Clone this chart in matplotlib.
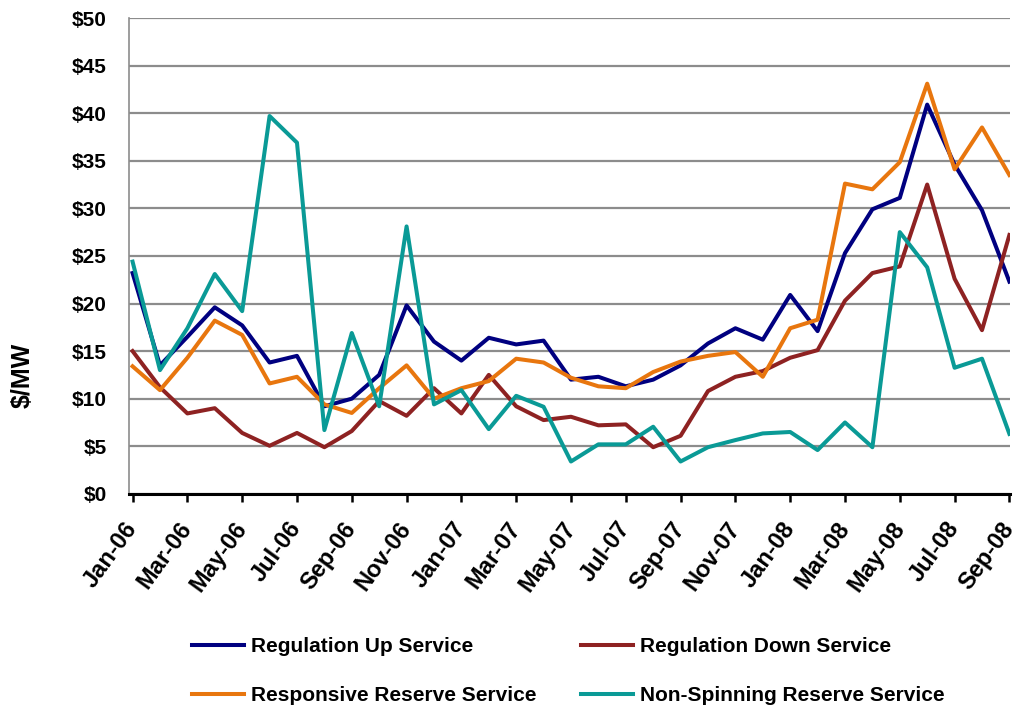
import matplotlib
matplotlib.use("Agg")
import matplotlib.pyplot as plt
import numpy as np

plt.rcParams["font.family"] = ["Liberation Sans", "DejaVu Sans"]
plt.rcParams["font.weight"] = "bold"

# Monthly prices, Jan-06 .. Sep-08
months = ["Jan-06", "Feb-06", "Mar-06", "Apr-06", "May-06", "Jun-06", "Jul-06", "Aug-06",
          "Sep-06", "Oct-06", "Nov-06", "Dec-06", "Jan-07", "Feb-07", "Mar-07", "Apr-07",
          "May-07", "Jun-07", "Jul-07", "Aug-07", "Sep-07", "Oct-07", "Nov-07", "Dec-07",
          "Jan-08", "Feb-08", "Mar-08", "Apr-08", "May-08", "Jun-08", "Jul-08", "Aug-08",
          "Sep-08"]

reg_up = [23.2, 13.5, 16.5, 19.6, 17.7, 13.8, 14.5, 9.2, 10.0, 12.5, 19.8, 16.0,
          14.0, 16.4, 15.7, 16.1, 12.0, 12.3, 11.3, 12.0, 13.5, 15.8, 17.4, 16.2,
          20.9, 17.1, 25.3, 29.9, 31.1, 40.9, 34.6, 29.8, 22.3]

reg_down = [15.0, 11.2, 8.45, 9.0, 6.4, 5.05, 6.4, 4.9, 6.6, 9.75, 8.2, 11.1,
            8.45, 12.5, 9.2, 7.75, 8.1, 7.2, 7.3, 4.9, 6.1, 10.8, 12.3, 12.9,
            14.3, 15.1, 20.3, 23.2, 23.9, 32.5, 22.6, 17.2, 27.2]

responsive = [13.4, 10.9, 14.3, 18.2, 16.7, 11.6, 12.3, 9.4, 8.5, 11.1, 13.5, 10.0,
              11.1, 11.85, 14.2, 13.8, 12.2, 11.3, 11.1, 12.8, 13.9, 14.5, 14.9, 12.3,
              17.4, 18.3, 32.6, 32.0, 34.85, 43.1, 34.1, 38.5, 33.5]

non_spin = [24.4, 13.0, 17.4, 23.1, 19.2, 39.7, 36.9, 6.7, 16.9, 9.2, 28.1, 9.4,
            10.9, 6.8, 10.3, 9.15, 3.4, 5.2, 5.2, 7.05, 3.4, 4.9, 5.65, 6.35,
            6.5, 4.6, 7.5, 4.9, 27.5, 23.8, 13.25, 14.2, 6.3]

x = np.arange(len(months))

fig = plt.figure(figsize=(10.14, 7.06), dpi=100)
ax = fig.add_axes([0.1275, 0.3005, 0.8685, 0.674])

l_up, = ax.plot(x, reg_up, color="#000080", lw=2.9, label="Regulation Up Service")
l_down, = ax.plot(x, reg_down, color="#8E2222", lw=2.9, label="Regulation Down Service")
l_resp, = ax.plot(x, responsive, color="#E8760E", lw=2.9, label="Responsive Reserve Service")
l_ns, = ax.plot(x, non_spin, color="#0A9A96", lw=2.9, label="Non-Spinning Reserve Service")

ax.set_xlim(-0.12, 32.02)
ax.set_ylim(0, 50)
ax.set_yticks(range(0, 51, 5))
ax.set_yticklabels(["$%d" % v for v in range(0, 51, 5)], fontsize=15, fontweight="bold")
ax.tick_params(axis="y", length=0, pad=16)
ax.yaxis.grid(True, color="#8c8c8c", lw=1.6)
ax.set_axisbelow(True)

ax.set_xticks(x[::2])
ax.set_xticklabels(months[::2], rotation=54, ha="right", va="center",
                   rotation_mode="anchor", fontsize=17, fontweight="bold")
ax.tick_params(axis="x", length=6, width=1.8, color="black", pad=16)

for side in ["top", "right"]:
    ax.spines[side].set_visible(False)
ax.spines["left"].set_color("#8c8c8c")
ax.spines["left"].set_linewidth(1.2)
ax.spines["bottom"].set_color("black")
ax.spines["bottom"].set_linewidth(2.2)

ax.set_ylabel("$/MW", fontsize=18, fontweight="bold")
ax.yaxis.set_label_coords(-0.108, 0.25)

# two-row legend under the axis labels
fig.legend([l_up, l_resp, l_down, l_ns],
           [l_up.get_label(), l_resp.get_label(), l_down.get_label(), l_ns.get_label()],
           loc="upper left", bbox_to_anchor=(0.189, 0.098), ncol=2, frameon=False,
           fontsize=15, borderpad=0, borderaxespad=0, handlelength=2.5,
           handletextpad=0.33, labelspacing=1.45, columnspacing=2.15)

fig.savefig("out.png", dpi=100)
